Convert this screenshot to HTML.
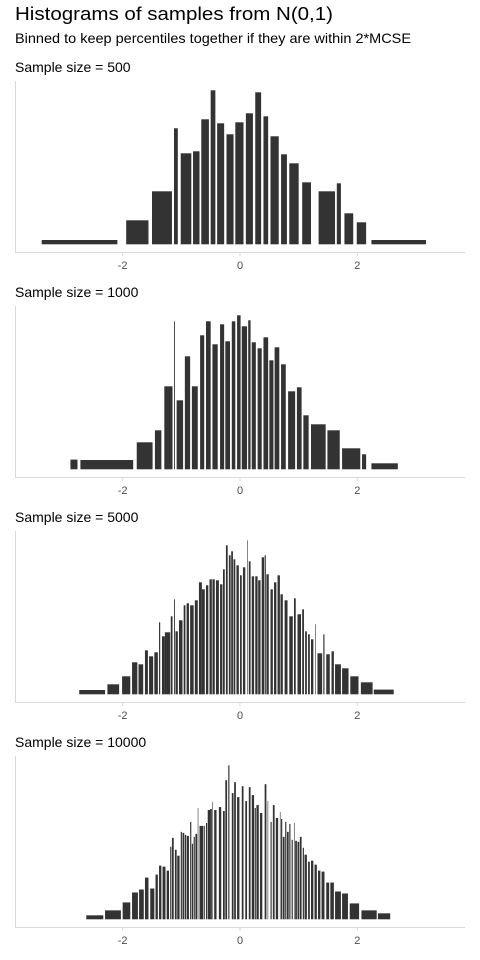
<!DOCTYPE html>
<html><head><meta charset="utf-8"><style>
html,body{margin:0;padding:0;background:#fff;}
svg{display:block;font-family:"Liberation Sans",Arial,sans-serif;}
</style></head><body>
<svg id="chart" width="480" height="960" viewBox="0 0 480 960">
<text x="15" y="20" font-size="18" fill="#000" textLength="318" lengthAdjust="spacingAndGlyphs">Histograms of samples from N(0,1)</text>
<text x="15" y="43" font-size="14" fill="#000" textLength="396" lengthAdjust="spacingAndGlyphs">Binned to keep percentiles together if they are within 2*MCSE</text>
<g id="panels"></g>
</svg>
<script>
const panelTitles = ["Sample size = 500","Sample size = 1000","Sample size = 5000","Sample size = 10000"];
const tickValues = [-2,0,2];
const tickLabels = ["-2","0","2"];
// panel 1 (n=500): bin left edges, right edges, heights
const left500 = [-3.38,-1.94,-1.50,-1.125,-1.01,-0.80,-0.66,-0.50,-0.39,-0.23,-0.08,0.10,0.26,0.40,0.52,0.70,0.84,1.06,1.34,1.65,1.78,1.99,2.24];
const right500 = [-2.09,-1.56,-1.16,-1.06,-0.83,-0.69,-0.53,-0.42,-0.27,-0.11,0.06,0.22,0.36,0.48,0.66,0.80,1.00,1.21,1.62,1.72,1.93,2.15,3.17];
const height500 = [4.3,24,53,116,91,93,125,154,121,110,122,131,152,128,108,90,81,62,53,61,31,22,4.3];
// panel 2 (n=1000)
const left1000 = [-2.89,-2.72,-1.76,-1.45,-1.29,-1.125,-1.08,-0.94,-0.82,-0.68,-0.58,-0.47,-0.34,-0.25,-0.14,-0.05,0.03,0.14,0.20,0.30,0.40,0.50,0.59,0.70,0.82,0.97,1.08,1.21,1.49,1.74,2.08,2.24];
const right1000 = [-2.77,-1.82,-1.49,-1.34,-1.15,-1.11,-0.97,-0.85,-0.72,-0.61,-0.50,-0.38,-0.27,-0.17,-0.08,0.01,0.12,0.18,0.27,0.37,0.48,0.57,0.67,0.78,0.94,1.05,1.17,1.46,1.70,2.05,2.15,2.69];
const height1000 = [9.7,9.3,27,39,83,148,69,113,83,134,148,125,145,128,148,154,143,149,127,121,132,109,122,105,78,82,54,45,39,21,15,6];
// panel 3 (n=5000)
const left5000 = [-2.74,-2.26,-2.01,-1.84,-1.73,-1.62,-1.55,-1.46,-1.38,-1.33,-1.28,-1.18,-1.125,-1.10,-1.04,-0.96,-0.91,-0.85,-0.77,-0.70,-0.65,-0.58,-0.52,-0.47,-0.41,-0.34,-0.29,-0.24,-0.19,-0.15,-0.11,-0.06,0.0,0.05,0.12,0.15,0.20,0.26,0.31,0.37,0.42,0.45,0.52,0.58,0.64,0.69,0.76,0.84,0.92,0.98,1.06,1.11,1.16,1.21,1.28,1.32,1.42,1.47,1.56,1.62,1.74,1.88,2.06,2.28];
const right5000 = [-2.30,-2.06,-1.87,-1.75,-1.65,-1.57,-1.48,-1.40,-1.36,-1.28,-1.19,-1.15,-1.11,-1.06,-0.98,-0.93,-0.87,-0.79,-0.72,-0.65,-0.60,-0.54,-0.48,-0.43,-0.36,-0.30,-0.26,-0.21,-0.16,-0.12,-0.08,-0.02,0.03,0.09,0.13,0.18,0.24,0.30,0.35,0.41,0.44,0.49,0.56,0.62,0.68,0.73,0.81,0.90,0.95,1.04,1.09,1.14,1.19,1.25,1.29,1.40,1.44,1.53,1.60,1.72,1.85,2.02,2.26,2.62];
const height5000 = [4.3,10,18,32,30,44,38,42,72,58,62,78,95,63,74,89,91,89,94,112,105,109,115,115,114,110,125,149,139,143,135,129,119,127,154,133,118,118,114,137,139,120,105,112,119,100,94,78,96,80,85,63,60,55,70,41,60,40,43,30,26,18,12,4.7];
// panel 4 (n=10000)
const left10000 = [-2.62,-2.30,-2.00,-1.84,-1.72,-1.62,-1.53,-1.44,-1.38,-1.32,-1.25,-1.19,-1.16,-1.11,-1.07,-1.01,-0.98,-0.94,-0.91,-0.85,-0.82,-0.79,-0.76,-0.72,-0.69,-0.62,-0.58,-0.55,-0.51,-0.47,-0.44,-0.36,-0.29,-0.25,-0.20,-0.14,-0.10,-0.05,0.03,0.09,0.15,0.20,0.25,0.28,0.34,0.42,0.47,0.52,0.56,0.61,0.68,0.70,0.73,0.77,0.80,0.84,0.88,0.92,0.94,0.98,1.02,1.07,1.10,1.16,1.21,1.27,1.33,1.39,1.47,1.54,1.62,1.74,1.87,2.07,2.35];
const right10000 = [-2.33,-2.03,-1.87,-1.74,-1.64,-1.56,-1.46,-1.40,-1.34,-1.27,-1.21,-1.17,-1.13,-1.08,-1.03,-0.99,-0.95,-0.92,-0.87,-0.83,-0.80,-0.77,-0.73,-0.71,-0.63,-0.60,-0.56,-0.51,-0.48,-0.46,-0.40,-0.32,-0.26,-0.22,-0.18,-0.11,-0.07,-0.01,0.06,0.12,0.18,0.24,0.27,0.32,0.38,0.45,0.48,0.54,0.59,0.65,0.69,0.72,0.76,0.79,0.83,0.86,0.90,0.93,0.97,1.01,1.05,1.09,1.14,1.19,1.25,1.31,1.37,1.44,1.52,1.60,1.72,1.84,2.03,2.33,2.56];
const height10000 = [4,9,17,27,30,42,31,45,54,53,49,73,82,70,64,88,87,85,84,98,76,83,86,112,94,94,97,110,111,118,110,113,109,140,155,127,138,123,134,119,133,125,112,115,107,136,119,98,115,102,108,101,83,98,88,96,80,97,79,78,83,72,65,58,59,55,49,48,37,37,28,26,16,9,6];

const lefts = [left500,left1000,left5000,left10000];
const rights = [right500,right1000,right5000,right10000];
const heights = [height500,height1000,height5000,height10000];

const NS = "http://www.w3.org/2000/svg";
const root = document.getElementById("panels");
function xScale(v){ return 240 + v*58.67; }
function yScale(h, base, maxH){ return base - h/maxH*154; }

for (let p=0; p<4; p++){
  const off = 225*p;
  const base = 244.3 + off;
  const g = document.createElementNS(NS,"g");
  
  
  root.appendChild(g);

  const t = document.createElementNS(NS,"text");
  
  
  t.setAttribute("x",15); t.setAttribute("y",72+off);
  t.setAttribute("font-size","14"); t.setAttribute("fill","#000");
  t.textContent = panelTitles[p];
  g.appendChild(t);

  const yl = document.createElementNS(NS,"line");
  
  
  yl.setAttribute("x1",15.5); yl.setAttribute("x2",15.5);
  yl.setAttribute("y1",81+off); yl.setAttribute("y2",252+off);
  yl.setAttribute("stroke","#d9d9d9"); yl.setAttribute("stroke-width","1");
  g.appendChild(yl);

  const ax = document.createElementNS(NS,"line");
  
  
  ax.setAttribute("x1",15); ax.setAttribute("x2",465);
  ax.setAttribute("y1",252.5+off); ax.setAttribute("y2",252.5+off);
  ax.setAttribute("stroke","#d9d9d9"); ax.setAttribute("stroke-width","1");
  g.appendChild(ax);

  const hs = heights[p];
  const maxH = Math.max.apply(null, hs);
  for (let i=0;i<hs.length;i++){
    const x0 = xScale(lefts[p][i]), x1 = xScale(rights[p][i]);
    const y = yScale(hs[i], base, maxH);
    const r = document.createElementNS(NS,"rect");
    
    
    r.setAttribute("x", x0);
    r.setAttribute("width", Math.max(0.6, x1-x0));
    r.setAttribute("y", y);
    r.setAttribute("height", base - y);
    r.setAttribute("fill","#333333");
    g.appendChild(r);
  }

  for (let k=0;k<tickValues.length;k++){
    const x = xScale(tickValues[k]);
    const tk = document.createElementNS(NS,"line");
    
    
    tk.setAttribute("x1",x); tk.setAttribute("x2",x);
    tk.setAttribute("y1",253+off); tk.setAttribute("y2",256+off);
    tk.setAttribute("stroke","#d9d9d9");
    g.appendChild(tk);
    const lb = document.createElementNS(NS,"text");
    
    
    lb.setAttribute("x",x); lb.setAttribute("y",269+off);
    lb.setAttribute("text-anchor","middle");
    lb.setAttribute("font-size","11"); lb.setAttribute("fill","#4d4d4d");
    lb.textContent = tickLabels[k];
    g.appendChild(lb);
  }
}
</script>
</body></html>
